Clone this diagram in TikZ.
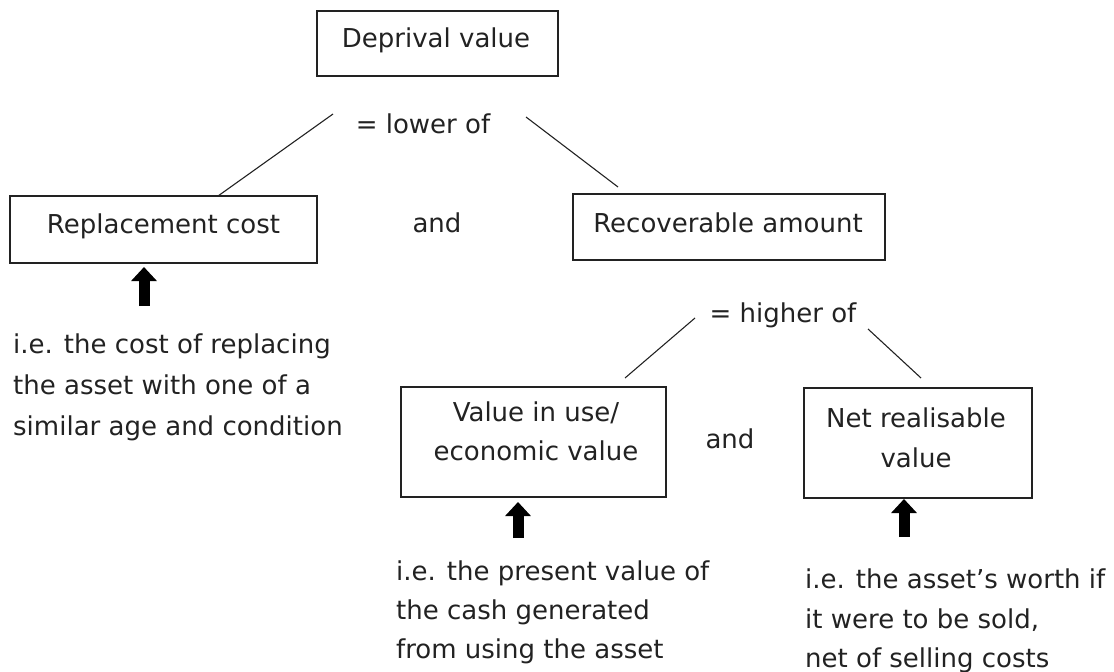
\documentclass[tikz,border=0pt]{standalone}
\usepackage{fontspec}
\setmainfont{DejaVu Sans}
\usetikzlibrary{arrows.meta}
\definecolor{ink}{HTML}{222222}
\begin{document}
\begin{tikzpicture}[x=1pt,y=-1pt,
  box/.style={draw=ink,line width=1.5pt,inner sep=0pt},
  txt/.style={font=\fontsize{26}{40}\selectfont,inner sep=0pt,text=ink},
  ptr/.style={line width=11pt,-{Triangle[width=25pt,length=14pt]}},
  conn/.style={line width=1.1pt,draw=ink}]
\useasboundingbox (0,0) rectangle (1114,672);
% boxes
\node[box,minimum width=241pt,minimum height=65pt] (dv) at (437.5,43.5) {};
\node[txt,anchor=base] (dvt) at (436,47) {Deprival value};
\node[box,minimum width=307pt,minimum height=67pt] (rc) at (163.5,229.5) {};
\node[txt,anchor=base] (rct) at (163.5,233) {Replacement cost};
\node[box,minimum width=312pt,minimum height=66pt] (ra) at (729,227) {};
\node[txt,anchor=base] (rat) at (728,232) {Recoverable amount};
\node[box,minimum width=265pt,minimum height=110pt] (vu) at (533.5,442) {};
\node[txt,anchor=base] (vut1) at (536,421) {Value in use/};
\node[txt,anchor=base] (vut2) at (536,460) {economic value};
\node[box,minimum width=228pt,minimum height=110pt] (nr) at (918,443) {};
\node[txt,anchor=base] (nrt1) at (916,427) {Net realisable};
\node[txt,anchor=base] (nrt2) at (916,467) {value};
% labels
\node[txt,anchor=base] (lo) at (423,133) {= lower of};
\node[txt,anchor=base] (a1) at (437,232) {and};
\node[txt,anchor=base] (hi) at (783,322) {= higher of};
\node[txt,anchor=base] (a2) at (730,448) {and};
% connectors
\coordinate (l1a) at (333,114); \coordinate (l1b) at (218,196);
\coordinate (l2a) at (526,117); \coordinate (l2b) at (618,187);
\coordinate (l3a) at (695,318); \coordinate (l3b) at (625,378);
\coordinate (l4a) at (868,329); \coordinate (l4b) at (921,378);
\draw[conn] (l1a) -- (l1b);
\draw[conn] (l2a) -- (l2b);
\draw[conn] (l3a) -- (l3b);
\draw[conn] (l4a) -- (l4b);
% arrows
\coordinate (p1a) at (144,306); \coordinate (p1b) at (144,267);
\coordinate (p2a) at (518,538); \coordinate (p2b) at (518,502);
\coordinate (p3a) at (904,537); \coordinate (p3b) at (904,499);
\draw[ptr] (p1a) -- (p1b);
\draw[ptr] (p2a) -- (p2b);
\draw[ptr] (p3a) -- (p3b);
% descriptions
\node[txt,anchor=base west] (d1a) at (13,353) {i.e. the cost of replacing};
\node[txt,anchor=base west] (d1b) at (13,394) {the asset with one of a};
\node[txt,anchor=base west] (d1c) at (13,435) {similar age and condition};
\node[txt,anchor=base west] (d2a) at (396,580) {i.e. the present value of};
\node[txt,anchor=base west] (d2b) at (396,619) {the cash generated};
\node[txt,anchor=base west] (d2c) at (396,658) {from using the asset};
\node[txt,anchor=base west] (d3a) at (805,588) {i.e. the asset’s worth if};
\node[txt,anchor=base west] (d3b) at (805,628) {it were to be sold,};
\node[txt,anchor=base west] (d3c) at (805,667) {net of selling costs};
\end{tikzpicture}
\end{document}
